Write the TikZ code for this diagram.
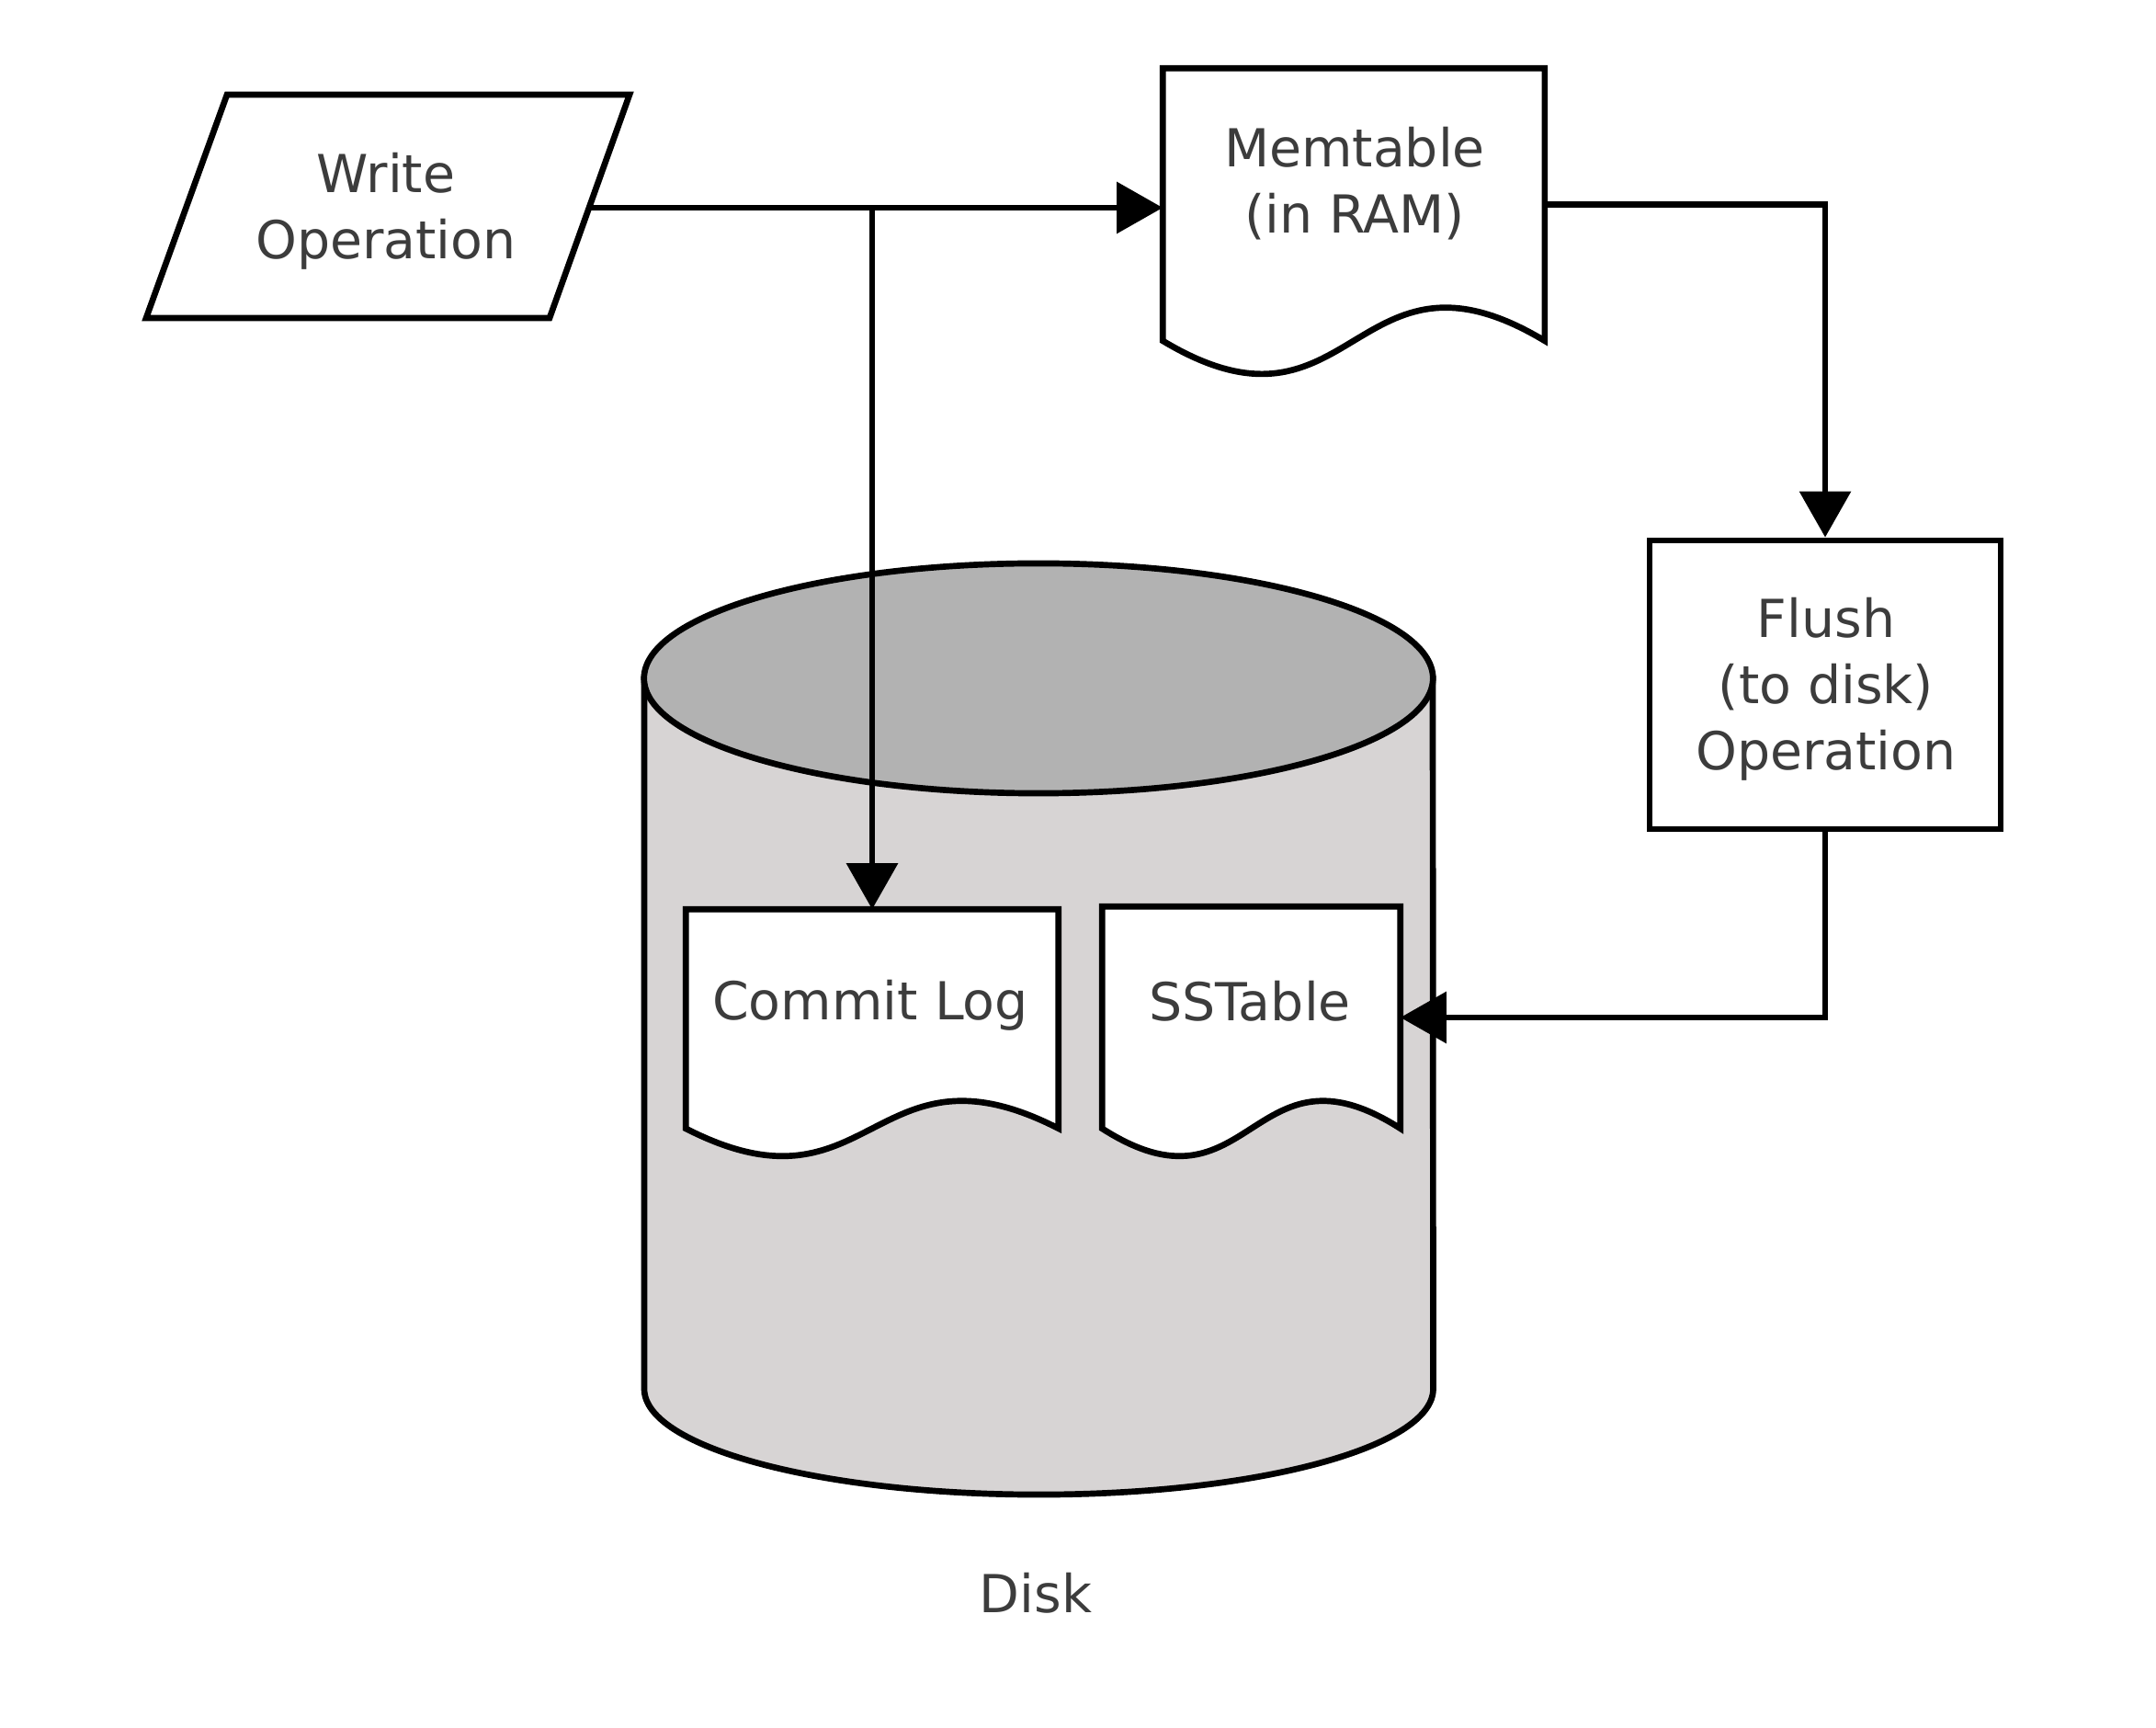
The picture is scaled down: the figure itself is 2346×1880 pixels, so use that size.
\documentclass[tikz,border=0pt]{standalone}
\usepackage{fontspec}
\setmainfont{DejaVu Sans}
\usetikzlibrary{arrows.meta,calc}
\definecolor{txtgray}{HTML}{3C3C3C}
\definecolor{topgray}{HTML}{B2B2B2}
\definecolor{bodygray}{HTML}{D7D4D4}
\newcommand{\docwave}[2]{\draw[shapeline,fill=white] (#1.north west) -- (#1.north east) -- (#1.south east) .. controls ($(#1.south)+(0,-#2)$) and ($(#1.south)+(0,#2)$) .. (#1.south west) -- cycle;}
\begin{document}
\begin{tikzpicture}[x=0.01cm,y=-0.01cm,
  shapeline/.style={line width=1.9pt, line join=miter},
  lbl/.style={font=\fontsize{16.2pt}{20.5pt}\selectfont, text=txtgray, align=center, inner sep=0pt},
  docbox/.style={rectangle, inner sep=0pt},
  conn/.style={line width=1.8pt, -{Triangle[length=0.5cm,width=0.55cm]}},
  plainconn/.style={line width=1.8pt}]
\useasboundingbox (0,0) rectangle (2346,1880);
% Disk cylinder
\draw[shapeline,fill=bodygray] (701,738) -- (701,1511) arc[start angle=180, end angle=360, x radius=4.29cm, y radius=1.15cm] -- (1559,738) -- cycle;
\draw[shapeline,fill=topgray] (1130,738) ellipse [x radius=4.29cm, y radius=1.25cm];
\node[lbl] (disk) at (1127,1733) {Disk};
% Write operation (parallelogram)
\draw[shapeline,fill=white] (247,103) -- (685,103) -- (598,346) -- (159,346) -- cycle;
\node[lbl] (write) at (420,230) {Write\\Operation};
\coordinate (wr) at (641,226);
% Memtable
\node[docbox, minimum width=4.14cm, minimum height=2.95cm] (mem) at (1473,222.5) {};
\docwave{mem}{125}
\node[lbl] (memtxt) at (1474,200) {Memtable\\(in RAM)};
% Flush
\node[docbox, draw, line width=1.9pt, fill=white, minimum width=3.82cm, minimum height=3.14cm] (flush) at (1986,745) {};
\node[lbl] (flushtxt) at (1987,750) {Flush\\(to disk)\\Operation};
% Commit log
\node[docbox, minimum width=4.04cm, minimum height=2.37cm] (cl) at (949,1108.5) {};
\docwave{cl}{104}
\node[lbl] (cltxt) at (947,1094) {Commit Log};
% SSTable
\node[docbox, minimum width=3.23cm, minimum height=2.40cm] (sst) at (1361.5,1107) {};
\docwave{sst}{104}
\node[lbl] (ssttxt) at (1360,1089) {SSTable};
% Connectors
\coordinate (br) at (cl.north |- wr);
\draw[conn] (wr) -- (wr -| mem.west);
\draw[conn] (br) -- (cl.north);
\draw[conn] (mem.east) -| (flush.north);
\draw[conn] (flush.south) |- (sst.east);
\end{tikzpicture}
\end{document}
